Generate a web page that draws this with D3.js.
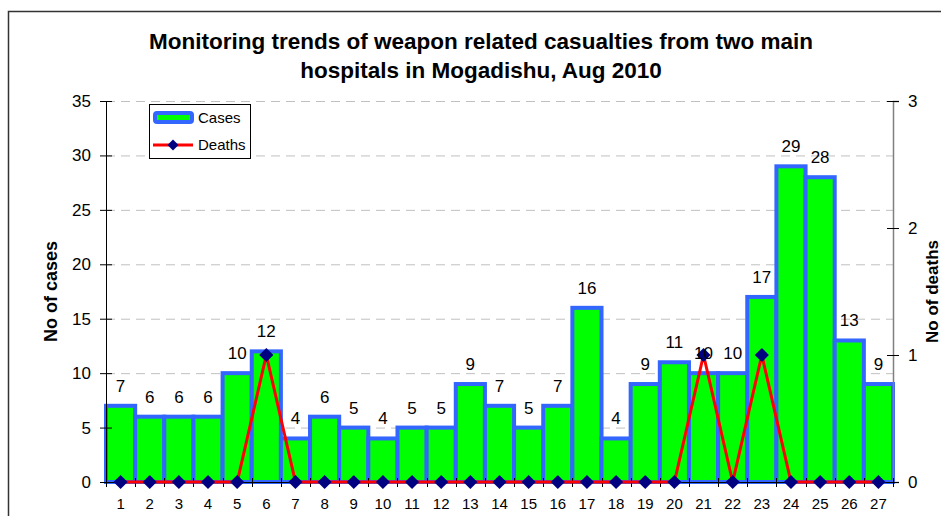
<!DOCTYPE html>
<html>
<head>
<meta charset="utf-8">
<script src="https://cdn.jsdelivr.net/npm/d3@7"></script>
<style>
  body { margin: 0; background: #fff; }
  text { font-family: "Liberation Sans", Arial, sans-serif; }
</style>
</head>
<body>
<div id="chart"></div>
<script>
// day of month, Aug 2010
const days = d3.range(1, 28).map(String)
const cases = [7, 6, 6, 6, 10, 12, 4, 6, 5, 4, 5, 5, 9, 7, 5, 7, 16, 4, 9, 11, 10, 10, 17, 29, 28, 13, 9]
const deaths = [0, 0, 0, 0, 0, 1, 0, 0, 0, 0, 0, 0, 0, 0, 0, 0, 0, 0, 0, 0, 1, 0, 1, 0, 0, 0, 0]
const caseTicks = [0, 5, 10, 15, 20, 25, 30, 35]
const deathTicks = [0, 1, 2, 3]
const titleLines = ["Monitoring trends of weapon related casualties from two main", "hospitals in Mogadishu, Aug 2010"]

function drawChart(container, width, height) {
    d3.select(container).selectAll("*").remove()

    const svg = d3.select(container)
        .append("svg")
        .attr("width", width)
        .attr("height", height)

    // outer chart frame (bottom edge runs off the picture)
    svg.append("rect")
        .attr("x", 8.5).attr("y", 11.5)
        .attr("width", 960).attr("height", 540)
        .attr("fill", "#fff")
        .attr("stroke", "#333").attr("stroke-width", 1.5)

    const left = 106, right = 893, top = 101, bottom = 482

    const x = d3.scaleBand().domain(days).range([left, right]).padding(0)
    const y = d3.scaleLinear().domain([0, 35]).range([bottom, top])
    const y2 = d3.scaleLinear().domain([0, 3]).range([bottom, top])

    // title
    svg.append("g").selectAll("text")
        .data(titleLines)
        .enter().append("text")
        .attr("x", 481)
        .attr("y", (d, i) => 49 + i * 29)
        .attr("text-anchor", "middle")
        .attr("font-size", 22.5)
        .attr("font-weight", "bold")
        .text(d => d)

    // dashed grid
    svg.append("g").selectAll("line")
        .data(caseTicks.filter(d => d > 0))
        .enter().append("line")
        .attr("x1", left).attr("x2", right)
        .attr("y1", d => y(d) + 0.5).attr("y2", d => y(d) + 0.5)
        .attr("stroke", "#c0c0c0")
        .attr("stroke-dasharray", "9,6")

    // bars
    svg.append("g").selectAll("rect")
        .data(cases)
        .enter().append("rect")
        .attr("x", (d, i) => x(days[i]))
        .attr("y", d => y(d))
        .attr("width", x.bandwidth())
        .attr("height", d => bottom - y(d))
        .attr("fill", "#00ff00")
        .attr("stroke", "#3366ff")
        .attr("stroke-width", 4)

    // left axis
    const gy = svg.append("g")
        .attr("transform", `translate(${left},0)`)
        .call(d3.axisLeft(y).tickValues(caseTicks).tickSize(6).tickPadding(9))
    gy.select(".domain").attr("stroke", "#000")
    gy.selectAll(".tick line").attr("x1", 6).attr("x2", -6)
    gy.selectAll("text").attr("font-size", 17).attr("font-family", null).attr("fill", "#000")

    // right axis
    const gy2 = svg.append("g")
        .attr("transform", `translate(${right},0)`)
        .call(d3.axisRight(y2).tickValues(deathTicks).tickFormat(d3.format("d")).tickSize(6).tickPadding(9))
    gy2.select(".domain").attr("stroke", "#808080").attr("stroke-width", 1.5)
    gy2.selectAll(".tick line").attr("x1", -6).attr("x2", 6).attr("stroke", "#000")
    gy2.selectAll("text").attr("font-size", 17).attr("font-family", null).attr("fill", "#000")

    // bottom axis
    const gx = svg.append("g")
        .attr("transform", `translate(0,${bottom})`)
        .call(d3.axisBottom(x).tickSize(0).tickPadding(16))
    gx.select(".domain").attr("stroke", "#000")
    gx.selectAll("text").attr("font-size", 15).attr("font-family", null).attr("fill", "#000")
    const edges = days.map(d => x(d)).concat([x.range()[1]])
    gx.selectAll(".edge")
        .data(edges)
        .enter().append("line")
        .attr("x1", d => Math.round(d) + 0.5).attr("x2", d => Math.round(d) + 0.5)
        .attr("y1", -4).attr("y2", 5)
        .attr("stroke", "#000")

    // deaths line
    const line = d3.line()
        .x((d, i) => x(days[i]) + x.bandwidth() / 2)
        .y(d => y2(d))
    svg.append("path")
        .datum(deaths)
        .attr("d", line)
        .attr("fill", "none")
        .attr("stroke", "#ff0000")
        .attr("stroke-width", 3)

    const diamond = d3.symbol().type(d3.symbolSquare).size(100)
    svg.append("g").selectAll("path")
        .data(deaths)
        .enter().append("path")
        .attr("d", diamond)
        .attr("transform", (d, i) => `translate(${x(days[i]) + x.bandwidth() / 2},${y2(d)}) rotate(45)`)
        .attr("fill", "#000080")

    // value labels
    svg.append("g").selectAll("text")
        .data(cases)
        .enter().append("text")
        .attr("x", (d, i) => x(days[i]) + x.bandwidth() / 2)
        .attr("y", d => y(d) - 14)
        .attr("text-anchor", "middle")
        .attr("font-size", 17)
        .text(d => d)

    // axis titles
    svg.append("text")
        .attr("transform", `translate(57,${(top + bottom) / 2}) rotate(-90)`)
        .attr("text-anchor", "middle")
        .attr("font-size", 18)
        .attr("font-weight", "bold")
        .text("No of cases")
    svg.append("text")
        .attr("transform", `translate(938,${(top + bottom) / 2}) rotate(-90)`)
        .attr("text-anchor", "middle")
        .attr("font-size", 17)
        .attr("font-weight", "bold")
        .text("No of deaths")

    // legend
    const lg = svg.append("g")
    lg.append("rect")
        .attr("x", 149.5).attr("y", 104.5)
        .attr("width", 101).attr("height", 54)
        .attr("fill", "#fff").attr("stroke", "#000")
    lg.append("rect")
        .attr("x", 155).attr("y", 113)
        .attr("width", 37).attr("height", 9)
        .attr("rx", 2)
        .attr("fill", "#00ff00").attr("stroke", "#3366ff").attr("stroke-width", 4)
    lg.append("line")
        .attr("x1", 153).attr("x2", 193)
        .attr("y1", 145).attr("y2", 145)
        .attr("stroke", "#ff0000").attr("stroke-width", 3)
    lg.append("path")
        .attr("d", d3.symbol().type(d3.symbolSquare).size(60))
        .attr("transform", "translate(173,145) rotate(45)")
        .attr("fill", "#000080")
    lg.selectAll(".lt")
        .data(["Cases", "Deaths"])
        .enter().append("text")
        .attr("x", 198)
        .attr("y", (d, i) => 123 + i * 27)
        .attr("font-size", 15)
        .text(d => d)
}

drawChart("#chart", 941, 516)
</script>
</body>
</html>
